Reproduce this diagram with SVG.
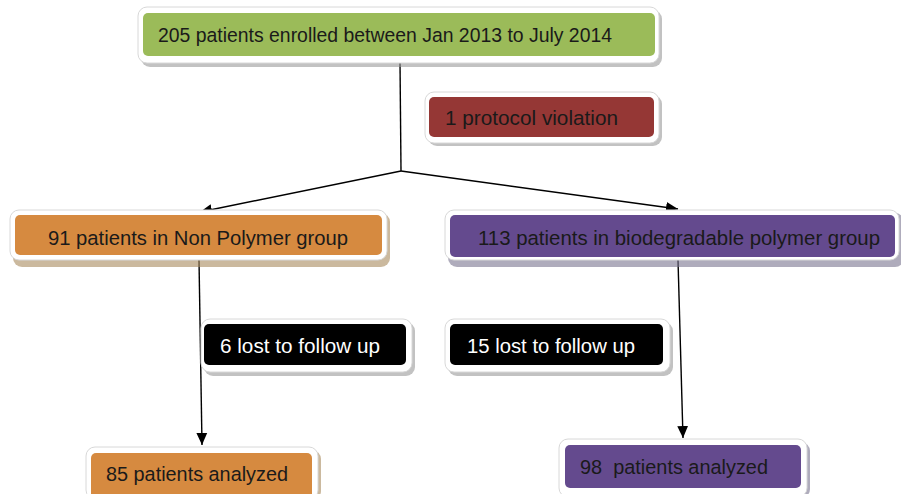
<svg xmlns="http://www.w3.org/2000/svg" width="901" height="494" viewBox="0 0 901 494">
<defs>
<style>
.sh{fill:#9a9a9a;opacity:0.6}
.fr{fill:#ffffff;stroke:#d8d8d8;stroke-width:1}
.t{font-family:"Liberation Sans",Arial,sans-serif;font-size:20.5px;fill:#1a1a1a}
.w{fill:#ffffff}
.c{stroke:#000;stroke-width:1.4;fill:none}
</style>
<marker id="ah" viewBox="0 0 10 10" refX="10" refY="5" markerWidth="12" markerHeight="12" markerUnits="userSpaceOnUse" orient="auto">
<path d="M0,0.5 L10,5 L0,9.5 z" fill="#000"/>
</marker>
</defs>
<rect width="901" height="494" fill="#ffffff"/>
<g id="connectors">
<path class="c" d="M400,62 L401,171"/>
<path class="c" d="M401,171 L200,212" marker-end="url(#ah)"/>
<path class="c" d="M401,171 L678,209" marker-end="url(#ah)"/>
<path class="c" d="M199,260 L202,445" marker-end="url(#ah)"/>
<path class="c" d="M678,260 L683,438" marker-end="url(#ah)"/>
</g>
<g id="enrolled">
<rect class="sh" x="141" y="10" width="521" height="57" rx="9"/>
<rect class="fr" x="138" y="7" width="521" height="56" rx="9"/>
<rect x="143" y="13" width="512" height="43" rx="5" fill="#9BBB59"/>
<text class="t" x="158" y="42" textLength="454" lengthAdjust="spacingAndGlyphs">205 patients enrolled between Jan 2013 to July 2014</text>
</g>
<g id="violation">
<rect class="sh" x="428" y="95" width="234" height="51" rx="9"/>
<rect class="fr" x="425" y="92" width="234" height="51" rx="9"/>
<rect x="429" y="97" width="225" height="40" rx="5" fill="#953735"/>
<text class="t" x="445" y="125" textLength="173" lengthAdjust="spacingAndGlyphs">1 protocol violation</text>
</g>
<g id="nonpolymer">
<rect class="sh" x="13" y="213" width="377" height="54" rx="9" style="fill:#a88a5e"/>
<rect class="fr" x="10" y="210" width="377" height="50" rx="9"/>
<rect x="15" y="215" width="367" height="40" rx="5" fill="#D68A40"/>
<text class="t" x="48" y="245" textLength="300" lengthAdjust="spacingAndGlyphs">91 patients in Non Polymer group</text>
</g>
<g id="biodegradable">
<rect class="sh" x="448" y="213" width="456" height="54" rx="9" style="fill:#7a7490"/>
<rect class="fr" x="445" y="210" width="454" height="50" rx="9"/>
<rect x="450" y="215" width="445" height="42" rx="5" fill="#644A8E"/>
<text class="t" x="478" y="245" textLength="402" lengthAdjust="spacingAndGlyphs">113 patients in biodegradable polymer group</text>
</g>
<g id="lost6">
<rect class="sh" x="204" y="322" width="211" height="54" rx="9"/>
<rect class="fr" x="201" y="319" width="211" height="53" rx="9"/>
<rect x="204" y="324" width="202" height="41" rx="5" fill="#000000"/>
<text class="t w" x="220" y="353" textLength="160" lengthAdjust="spacingAndGlyphs">6 lost to follow up</text>
</g>
<g id="lost15">
<rect class="sh" x="448" y="322" width="225" height="54" rx="9"/>
<rect class="fr" x="445" y="319" width="225" height="53" rx="9"/>
<rect x="450" y="324" width="213" height="41" rx="5" fill="#000000"/>
<text class="t w" x="467" y="353" textLength="168" lengthAdjust="spacingAndGlyphs">15 lost to follow up</text>
</g>
<g id="analyzed85">
<rect class="sh" x="89" y="450" width="232" height="50" rx="9" style="fill:#a88a5e"/>
<rect class="fr" x="86" y="447" width="232" height="52" rx="9"/>
<rect x="91" y="453" width="221" height="45" rx="5" fill="#D68A40"/>
<text class="t" x="106" y="481" textLength="182" lengthAdjust="spacingAndGlyphs">85 patients analyzed</text>
</g>
<g id="analyzed98">
<rect class="sh" x="562" y="442" width="248" height="56" rx="9" style="fill:#7a7490"/>
<rect class="fr" x="559" y="439" width="248" height="58" rx="9"/>
<rect x="565" y="445" width="236" height="43" rx="5" fill="#644A8E"/>
<text class="t" x="580" y="474" textLength="188" lengthAdjust="spacingAndGlyphs" xml:space="preserve">98  patients analyzed</text>
</g>
</svg>
